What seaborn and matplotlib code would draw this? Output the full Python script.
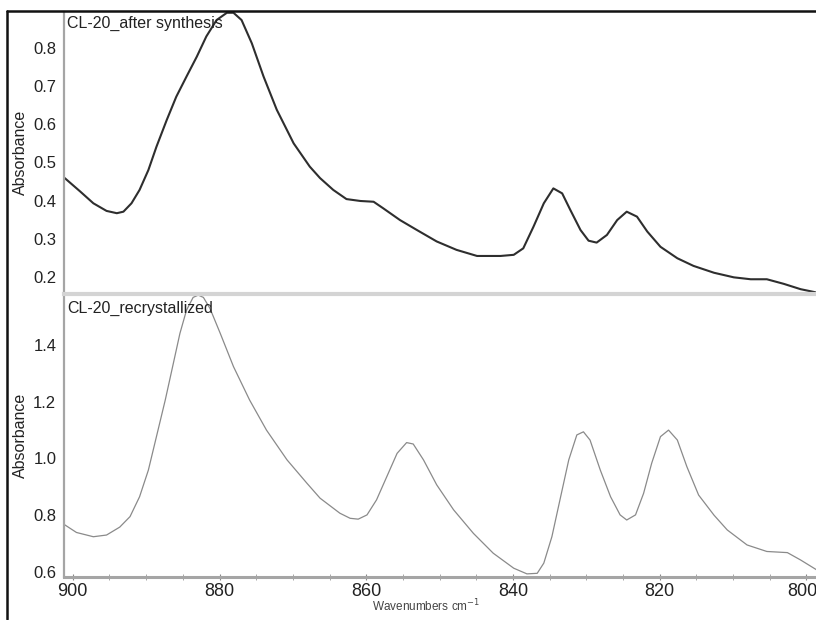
import matplotlib
matplotlib.use("Agg")
import matplotlib.pyplot as plt
from matplotlib.ticker import MultipleLocator
from matplotlib.lines import Line2D
import matplotlib.transforms as mtransforms
import seaborn as sns
import pandas as pd

# ---------------- data ----------------
wn_top = [901.1, 899.0, 897.2, 895.4, 894.0, 893.1, 892.0, 890.9, 889.7, 888.6,
          887.2, 885.9, 884.5, 883.1, 881.8, 880.4, 879.0, 878.1, 877.0, 875.6,
          874.0, 872.2, 869.9, 867.7, 866.3, 864.5, 862.7, 860.8, 859.0, 857.7,
          855.4, 853.1, 850.4, 847.7, 844.9, 841.7, 839.9, 838.6, 837.2, 835.8,
          834.5, 833.3, 832.2, 830.8, 829.7, 828.6, 827.2, 825.8, 824.5, 823.1,
          821.7, 819.9, 817.6, 815.4, 812.6, 809.9, 807.6, 805.4, 803.1, 800.8,
          798.8]
abs_top = [0.459, 0.424, 0.393, 0.373, 0.367, 0.371, 0.393, 0.428, 0.480, 0.541,
           0.611, 0.672, 0.725, 0.777, 0.830, 0.873, 0.892, 0.892, 0.873, 0.812,
           0.725, 0.638, 0.550, 0.489, 0.459, 0.428, 0.404, 0.399, 0.397, 0.380,
           0.349, 0.323, 0.293, 0.271, 0.255, 0.255, 0.258, 0.275, 0.332, 0.393,
           0.432, 0.419, 0.376, 0.323, 0.295, 0.290, 0.310, 0.349, 0.371, 0.358,
           0.319, 0.279, 0.249, 0.229, 0.211, 0.199, 0.194, 0.194, 0.182, 0.168,
           0.160]

wn_bot = [901.1, 899.5, 897.2, 895.4, 893.6, 892.2, 890.9, 889.7, 888.6, 887.4,
          886.3, 885.4, 884.5, 883.6, 882.9, 882.2, 881.3, 879.9, 878.1, 875.9,
          873.6, 870.8, 868.1, 866.3, 863.6, 862.2, 861.1, 859.9, 858.6, 857.2,
          855.8, 854.5, 853.6, 852.2, 850.4, 848.1, 845.4, 842.7, 839.9, 838.1,
          836.7, 835.8, 834.7, 833.6, 832.4, 831.3, 830.4, 829.5, 828.1, 826.7,
          825.4, 824.5, 823.3, 822.2, 821.1, 819.9, 818.8, 817.6, 816.3, 814.7,
          812.6, 810.8, 808.1, 805.4, 802.6, 800.8, 798.6]
abs_bot = [0.766, 0.739, 0.724, 0.730, 0.758, 0.795, 0.865, 0.959, 1.077, 1.206,
           1.335, 1.441, 1.523, 1.568, 1.576, 1.568, 1.529, 1.441, 1.324, 1.206,
           1.100, 0.995, 0.913, 0.860, 0.807, 0.789, 0.786, 0.801, 0.854, 0.936,
           1.018, 1.056, 1.051, 0.995, 0.907, 0.819, 0.736, 0.666, 0.613, 0.593,
           0.595, 0.631, 0.724, 0.854, 0.995, 1.083, 1.094, 1.065, 0.959, 0.865,
           0.801, 0.783, 0.801, 0.877, 0.983, 1.077, 1.100, 1.065, 0.971, 0.871,
           0.800, 0.748, 0.695, 0.672, 0.668, 0.642, 0.607]

label_top = "CL-20_after synthesis"
label_bot = "CL-20_recrystallized"
y_label = "Absorbance"
x_label = "Wavenumbers cm$^{-1}$"

# ---------------- style ----------------
sns.set_style("white")
plt.rcParams["font.family"] = ["Liberation Sans", "DejaVu Sans"]

W, H = 816, 620
fig = plt.figure(figsize=(W / 100, H / 100), dpi=100)

def fx(px):
    return px / W

def fy(py):
    return 1 - py / H

ax_top = fig.add_axes([fx(64), fy(293), 1 - fx(64), fy(12) - fy(293)])
ax_bot = fig.add_axes([fx(64), fy(577), 1 - fx(64), fy(294) - fy(577)], sharex=ax_top)

df_top = pd.DataFrame({"wn": wn_top, "A": abs_top})
df_bot = pd.DataFrame({"wn": wn_bot, "A": abs_bot})

sns.lineplot(data=df_top, x="wn", y="A", ax=ax_top, sort=False,
             color="#2e2e2e", linewidth=1.5)
sns.lineplot(data=df_bot, x="wn", y="A", ax=ax_bot, sort=False,
             color="#8a8a8a", linewidth=0.9)

ax_top.set_xlim(901.2, 798.7)
ax_top.set_ylim(0.158, 0.894)
ax_bot.set_ylim(0.582, 1.58)

spine_gray = "#a5a5a5"
for ax in (ax_top, ax_bot):
    for s in ("top", "right", "bottom", "left"):
        ax.spines[s].set_visible(False)
    ax.spines["left"].set_visible(True)
    ax.spines["left"].set_color(spine_gray)
    ax.spines["left"].set_linewidth(1.6)
    ax.set_ylabel(y_label, fontsize=11.5, color="#222222")
    ax.set_xlabel("")
    ax.tick_params(axis="y", which="major", direction="out", length=4,
                   width=0.8, color="#888888", labelsize=12, labelcolor="#222222",
                   pad=1.5)
    ax.tick_params(axis="y", which="minor", direction="out", length=2.5,
                   width=0.6, color="#999999")
    ax.yaxis.set_label_coords(-0.048, 0.5)

ax_top.yaxis.set_major_locator(MultipleLocator(0.1))
ax_top.yaxis.set_minor_locator(MultipleLocator(0.02))
ax_bot.yaxis.set_major_locator(MultipleLocator(0.2))
ax_bot.yaxis.set_minor_locator(MultipleLocator(0.05))

# top axes: no x ticks
ax_top.tick_params(axis="x", which="both", bottom=False, labelbottom=False)

# bottom axes: separator line at top, x axis at bottom
ax_bot.spines["top"].set_visible(True)
ax_bot.spines["top"].set_color("#d4d4d4")
ax_bot.spines["top"].set_linewidth(3)
ax_bot.spines["bottom"].set_visible(True)
ax_bot.spines["bottom"].set_color(spine_gray)
ax_bot.spines["bottom"].set_linewidth(2.2)
ax_bot.xaxis.set_major_locator(MultipleLocator(20))
ax_bot.xaxis.set_minor_locator(MultipleLocator(5))
ax_bot.tick_params(axis="x", which="major", direction="inout", length=5,
                   width=0.8, color="#888888", labelsize=13, labelcolor="#222222",
                   pad=1.5, bottom=True)
ax_bot.tick_params(axis="x", which="minor", direction="inout", length=4,
                   width=0.6, color="#999999", bottom=True)

fig.canvas.draw()
labels = ax_bot.get_xticklabels()
for lab in labels:
    if lab.get_text() in ("800", "\u2212800"):
        lab.set_transform(lab.get_transform() +
                          mtransforms.ScaledTranslation(-4 / 100, 0, fig.dpi_scale_trans))

# panel labels
ax_top.text(0.004, 0.985, label_top, transform=ax_top.transAxes,
            ha="left", va="top", fontsize=11.5, color="#222222")
ax_bot.text(0.004, 0.975, label_bot, transform=ax_bot.transAxes,
            ha="left", va="top", fontsize=11.5, color="#222222")

fig.text(fx(426), fy(606), x_label, ha="center", va="center",
         fontsize=8.5, color="#444444")

# outer frame lines (top and left)
fig.add_artist(Line2D([fx(7), 1.0], [fy(11), fy(11)], color="#111111",
                      linewidth=1.8, transform=fig.transFigure))
fig.add_artist(Line2D([fx(7), fx(7)], [fy(11), fy(619)], color="#111111",
                      linewidth=1.8, transform=fig.transFigure))

fig.savefig("out.png", dpi=100, facecolor="white")
